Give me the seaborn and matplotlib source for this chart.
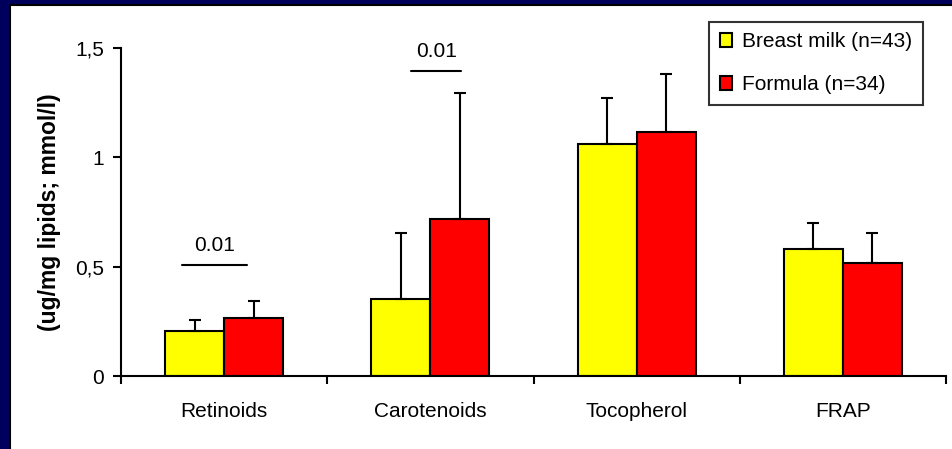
import matplotlib
matplotlib.use("Agg")
import matplotlib.pyplot as plt
import seaborn as sns
import pandas as pd
from matplotlib.patches import Rectangle

categories = ["Retinoids", "Carotenoids", "Tocopherol", "FRAP"]
groups = ["Breast milk (n=43)", "Formula (n=34)"]
breast_mean = [0.205, 0.352, 1.06, 0.582]
breast_sd = [0.05, 0.30, 0.21, 0.118]
formula_mean = [0.265, 0.718, 1.116, 0.517]
formula_sd = [0.078, 0.575, 0.264, 0.137]
y_ticks = [0, 0.5, 1, 1.5]
y_tick_labels = ["0", "0,5", "1", "1,5"]
y_label = "(ug/mg lipids; mmol/l)"
sig_label = "0.01"

df = pd.DataFrame({
    "cat": categories * 2,
    "group": [groups[0]] * 4 + [groups[1]] * 4,
    "val": breast_mean + formula_mean,
    "sd": breast_sd + formula_sd,
})

sns.set_style("white")
plt.rcParams["font.family"] = ["Liberation Sans", "DejaVu Sans"]
plt.rcParams["text.color"] = "black"
plt.rcParams["axes.labelcolor"] = "black"
plt.rcParams["xtick.color"] = "black"
plt.rcParams["ytick.color"] = "black"

W, H = 953, 449
fig = plt.figure(figsize=(W / 100, H / 100), dpi=100)
fig.patch.set_facecolor("#00005C")
fig.patches.append(Rectangle((10 / W, -0.05), 1 - 10 / W + 0.05, (H - 5) / H + 0.05,
                             transform=fig.transFigure, facecolor="white",
                             edgecolor="black", linewidth=1.5, zorder=-5))

ax = fig.add_axes([121 / W, (H - 376) / H, (946 - 121) / W, (376 - 48) / H])
ax.set_facecolor("none")
ax.set_zorder(2)

sns.barplot(data=df, x="cat", y="val", hue="group", order=categories,
            hue_order=groups, palette=["#FFFF00", "#FF0000"], edgecolor="black",
            linewidth=1.5, width=0.573, errorbar=None, ax=ax, saturation=1)

# error bars (upper only) at the bar centres
bars = [p for p in ax.patches if p.get_height() > 0]
sds = breast_sd + formula_sd
vals = breast_mean + formula_mean
for i, p in enumerate(bars[:8]):
    xc = p.get_x() + p.get_width() / 2
    ax.errorbar([xc], [vals[i]], yerr=[[0], [sds[i]]], fmt="none",
                ecolor="black", elinewidth=1.5, capsize=4.3, capthick=1.5, zorder=1)

ax.set_xlim(-0.5, 3.5)
ax.set_ylim(0, 1.5)
ax.set_yticks(y_ticks)
ax.set_yticklabels(y_tick_labels, fontsize=15)
ax.set_xticks(range(len(categories)))
ax.set_xticklabels(categories, fontsize=15)
ax.set_xticks([-0.5, 0.5, 1.5, 2.5, 3.5], minor=True)
ax.tick_params(axis="x", which="major", length=0, pad=19)
ax.tick_params(axis="x", which="minor", length=6, width=1.5, direction="out",
               bottom=True, color="black")
ax.tick_params(axis="y", length=6, width=1.5, direction="out", left=True,
               color="black", pad=6)
ax.set_xlabel("")
ax.set_ylabel(y_label, fontsize=16.5, fontweight="bold", labelpad=10)
for s in ["top", "right"]:
    ax.spines[s].set_visible(False)
for s in ["left", "bottom"]:
    ax.spines[s].set_color("black")
    ax.spines[s].set_linewidth(1.5)

# significance markers
ax.plot([-0.204, 0.112], [0.508, 0.508], color="black", lw=1.5)
ax.text(-0.046, 0.553, sig_label, ha="center", va="bottom", fontsize=15)
ax.plot([0.908, 1.150], [1.395, 1.395], color="black", lw=1.5)
ax.text(1.029, 1.44, sig_label, ha="center", va="bottom", fontsize=15)

handles, labels = ax.get_legend_handles_labels()
leg = ax.legend(handles, labels, loc="upper right",
                bbox_to_anchor=((923 - 121) / (946 - 121), (376 - 22) / (376 - 48)),
                fontsize=15, frameon=True, fancybox=False, edgecolor="black",
                handlelength=0.6, handleheight=0.6, handletextpad=0.5,
                labelspacing=1.15, borderpad=0.5, borderaxespad=0)
leg.get_frame().set_linewidth(1.5)

fig.savefig("out.png", dpi=100, facecolor=fig.get_facecolor())
